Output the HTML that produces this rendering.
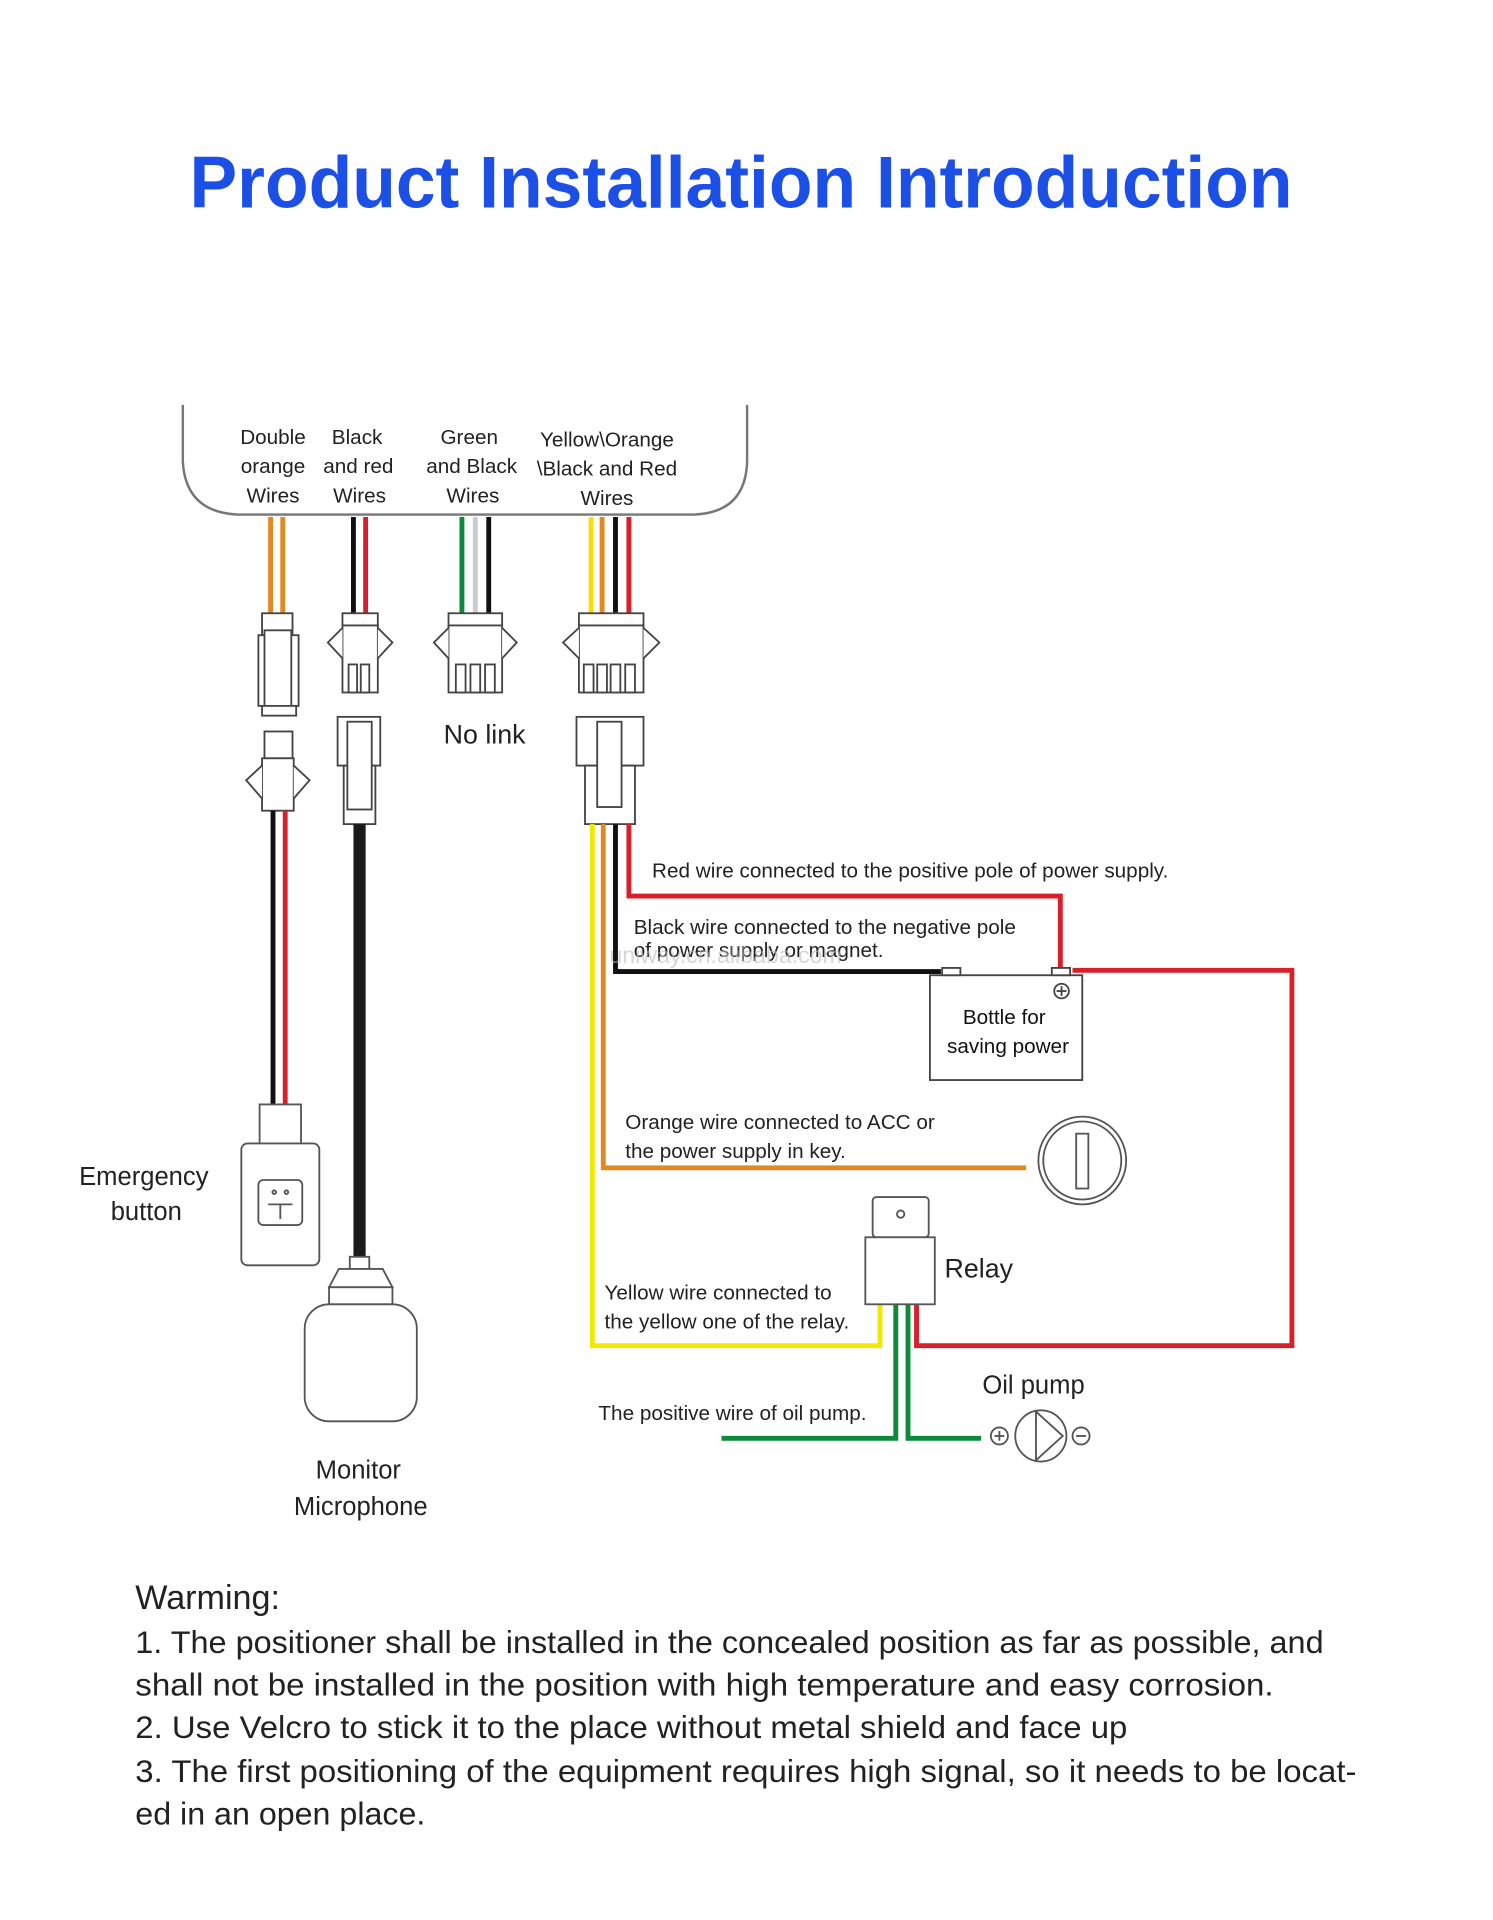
<!DOCTYPE html>
<html><head><meta charset="utf-8"><style>html,body{margin:0;padding:0;background:#fff}svg{display:block}</style></head>
<body>
<svg width="1493" height="1920" viewBox="0 0 1225 1575" xmlns="http://www.w3.org/2000/svg" font-family="Liberation Sans, sans-serif">
<rect width="1225" height="1575" fill="#fff"/>
<text x="608" y="170" text-anchor="middle" font-size="60" font-weight="bold" fill="#1b4fe6" textLength="905" lengthAdjust="spacingAndGlyphs">Product Installation Introduction</text>

<path d="M150 332 V378 Q152 420 195 422 H570 Q612 420 613 378 V332" fill="none" stroke="#777" stroke-width="2"/>
<g font-size="17" fill="#222" text-anchor="middle">
<text x="224" y="364">Double</text><text x="224" y="388">orange</text><text x="224" y="412">Wires</text>
<text x="293" y="364">Black</text><text x="294" y="388">and red</text><text x="295" y="412">Wires</text>
<text x="385" y="364">Green</text><text x="387" y="388">and Black</text><text x="388" y="412">Wires</text>
<text x="498" y="366">Yellow\Orange</text><text x="498" y="390">\Black and Red</text><text x="498" y="414">Wires</text>
</g>

<g stroke-width="4" fill="none">
<line x1="222" y1="424" x2="222" y2="505" stroke="#e08a20"/><line x1="232" y1="424" x2="232" y2="505" stroke="#e08a20"/>
<line x1="290" y1="424" x2="290" y2="505" stroke="#111"/><line x1="300" y1="424" x2="300" y2="505" stroke="#d8202a"/>
<line x1="379" y1="424" x2="379" y2="505" stroke="#0a8a3a"/><line x1="390" y1="424" x2="390" y2="505" stroke="#ccc"/><line x1="401" y1="424" x2="401" y2="505" stroke="#111"/>
<line x1="485" y1="424" x2="485" y2="505" stroke="#f5e000"/><line x1="494" y1="424" x2="494" y2="505" stroke="#e08a20"/><line x1="505" y1="424" x2="505" y2="505" stroke="#111"/><line x1="516" y1="424" x2="516" y2="505" stroke="#d8202a"/>
</g>

<g fill="#fff" stroke="#444" stroke-width="1.5">
<rect x="215" y="503" width="25" height="18"/><rect x="212" y="521" width="33" height="58"/><rect x="217" y="517" width="22" height="66"/><rect x="215" y="579" width="28" height="8"/>
<rect x="217" y="600" width="23" height="22"/><rect x="215" y="622" width="26" height="43"/>
<path d="M215 628 L202 640 L215 655 M241 628 L254 640 L241 655"/>
<rect x="281" y="503" width="29" height="10"/><rect x="281" y="513" width="29" height="55"/>
<path d="M281 515 L269 527 L281 540 M310 515 L322 527 L310 540"/>
<rect x="286" y="545" width="7" height="23"/><rect x="296" y="545" width="7" height="23"/>
<rect x="277" y="588" width="35" height="40"/><rect x="282" y="628" width="26" height="48"/><rect x="285" y="592" width="20" height="72"/>
<rect x="368" y="503" width="44" height="10"/><rect x="368" y="513" width="44" height="55"/>
<path d="M368 515 L356 527 L368 540 M412 515 L424 527 L412 540"/>
<rect x="374" y="545" width="8" height="23"/><rect x="386" y="545" width="8" height="23"/><rect x="398" y="545" width="8" height="23"/>
<rect x="475" y="503" width="53" height="10"/><rect x="475" y="513" width="53" height="55"/>
<path d="M475 515 L462 527 L475 540 M528 515 L541 527 L528 540"/>
<rect x="479" y="545" width="8" height="23"/><rect x="490" y="545" width="8" height="23"/><rect x="501" y="545" width="8" height="23"/><rect x="513" y="545" width="8" height="23"/>
<rect x="473" y="588" width="55" height="40"/><rect x="480" y="628" width="41" height="48"/><rect x="490" y="592" width="20" height="70"/>
</g>
<text x="364" y="610" font-size="22" fill="#222">No link</text>

<line x1="224" y1="665" x2="224" y2="906" stroke="#111" stroke-width="4"/>
<line x1="234" y1="665" x2="234" y2="906" stroke="#d8202a" stroke-width="4"/>
<g fill="#fff" stroke="#555" stroke-width="1.5">
<rect x="213" y="906" width="34" height="32"/>
<rect x="198" y="938" width="64" height="100" rx="5"/>
<rect x="212" y="968" width="36" height="37" rx="4"/>
<path d="M220 988 H240 M230 988 V1000"/>
<circle cx="225" cy="978" r="1.5"/><circle cx="235" cy="978" r="1.5"/>
</g>
<text x="118" y="972" font-size="21" text-anchor="middle" fill="#222">Emergency</text>
<text x="120" y="1001" font-size="21" text-anchor="middle" fill="#222">button</text>

<line x1="295" y1="676" x2="295" y2="1032" stroke="#1a1a1a" stroke-width="10"/>
<g fill="#fff" stroke="#555" stroke-width="1.5">
<rect x="287" y="1031" width="16" height="10"/>
<path d="M278 1041 H314 L322 1056 H270 Z"/>
<rect x="270" y="1056" width="52" height="14"/>
<rect x="250" y="1070" width="92" height="96" rx="20"/>
</g>
<text x="294" y="1213" font-size="21" text-anchor="middle" fill="#222">Monitor</text>
<text x="296" y="1243" font-size="21" text-anchor="middle" fill="#222">Microphone</text>

<g fill="none" stroke-width="4">
<path d="M486 676 V1104 H722 V1070" stroke="#f5e800"/>
<path d="M495 676 V958 H842" stroke="#e08a20"/>
<path d="M505 676 V797 H772" stroke="#111"/>
<path d="M516 676 V735 H870 V797" stroke="#d8202a"/>
<path d="M880 796 H1060 V1104 H752 V1070" stroke="#d8202a"/>
<path d="M735 1070 V1180 H592" stroke="#0a8a3a"/>
<path d="M745 1070 V1180 H805" stroke="#0a8a3a"/>
</g>
<g fill="#fff" stroke="#444" stroke-width="1.5">
<rect x="763" y="800" width="125" height="86"/>
<rect x="773" y="794" width="15" height="6"/><rect x="863" y="794" width="15" height="6"/>
<circle cx="871" cy="813" r="6"/>
</g>
<path d="M867 813 H875 M871 809 V817" stroke="#444" stroke-width="1.5"/>
<text x="790" y="840" font-size="17" fill="#111">Bottle for</text>
<text x="777" y="864" font-size="17" fill="#111">saving power</text>

<circle cx="888" cy="952" r="36" fill="#fff" stroke="#555" stroke-width="1.5"/>
<circle cx="888" cy="952" r="32" fill="none" stroke="#555" stroke-width="1.5"/>
<rect x="883" y="930" width="10" height="45" fill="#fff" stroke="#555" stroke-width="1.5"/>

<g fill="#fff" stroke="#555" stroke-width="1.5">
<rect x="716" y="982" width="46" height="33" rx="3"/>
<circle cx="739" cy="996" r="3"/>
<rect x="710" y="1015" width="57" height="55"/>
</g>
<text x="775" y="1048" font-size="22" fill="#222">Relay</text>

<g fill="#fff" stroke="#555" stroke-width="1.5">
<circle cx="854" cy="1178" r="21"/>
<path d="M850 1158 V1198 L872 1178 Z"/>
<circle cx="820" cy="1178" r="7"/><circle cx="887" cy="1178" r="7"/>
</g>
<path d="M816 1178 H824 M820 1174 V1182 M883 1178 H891" stroke="#555" stroke-width="1.5"/>
<text x="806" y="1143" font-size="21" fill="#222">Oil pump</text>

<g font-size="17" fill="#222">
<text x="535" y="720">Red wire connected to the positive pole of power supply.</text>
<text x="520" y="766">Black wire connected to the negative pole</text>
<text x="520" y="785">of power supply or magnet.</text>
<text x="513" y="926">Orange wire connected to ACC or</text>
<text x="513" y="950">the power supply in key.</text>
<text x="496" y="1066">Yellow wire connected to</text>
<text x="496" y="1090">the yellow one of the relay.</text>
<text x="491" y="1165">The positive wire of oil pump.</text>
</g>
<text x="500" y="790" font-size="19" fill="#bbb" opacity="0.6">uniway.cn.alibaba.com</text>

<g fill="#222">
<text x="111" y="1320" font-size="28">Warming:</text>
<text x="111" y="1356" font-size="26" textLength="975" lengthAdjust="spacingAndGlyphs">1. The positioner shall be installed in the concealed position as far as possible, and</text>
<text x="111" y="1391" font-size="26" textLength="934" lengthAdjust="spacingAndGlyphs">shall not be installed in the position with high temperature and easy corrosion.</text>
<text x="111" y="1426" font-size="26" textLength="814" lengthAdjust="spacingAndGlyphs">2. Use Velcro to stick it to the place without metal shield and face up</text>
<text x="111" y="1462" font-size="26" textLength="1002" lengthAdjust="spacingAndGlyphs">3. The first positioning of the equipment requires high signal, so it needs to be locat-</text>
<text x="111" y="1497" font-size="26" textLength="238" lengthAdjust="spacingAndGlyphs">ed in an open place.</text>
</g>
</svg>
</body></html>
